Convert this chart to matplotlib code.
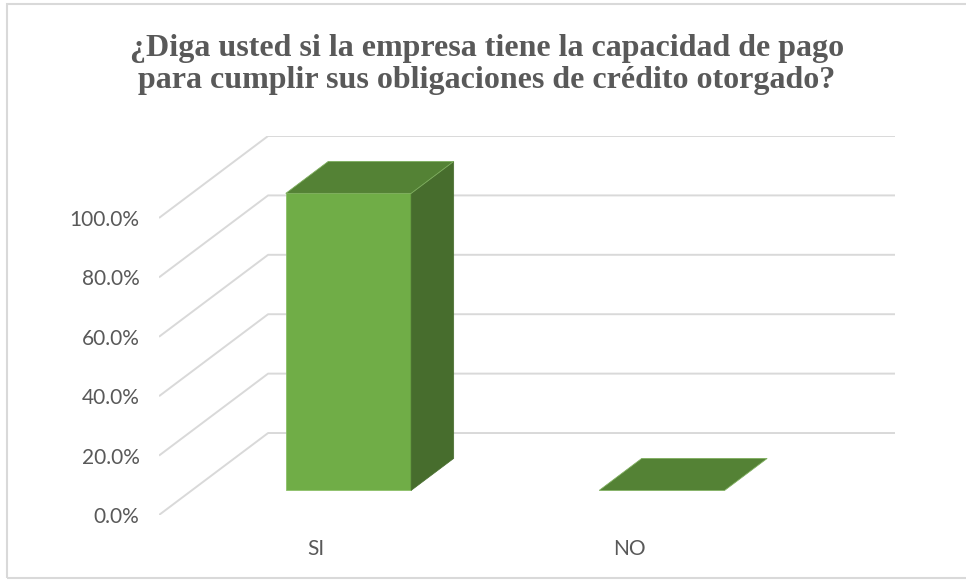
import matplotlib
matplotlib.use("Agg")
import matplotlib.pyplot as plt
from matplotlib.patches import Polygon, Rectangle

# ---- data ----
categories = ["SI", "NO"]
values = [100.0, 0.0]
yticks = [0, 20, 40, 60, 80, 100]
ytick_labels = ["0.0%", "20.0%", "40.0%", "60.0%", "80.0%", "100.0%"]
title = ("¿Diga usted si la empresa tiene la capacidad de pago\n"
         "para cumplir sus obligaciones de crédito otorgado?")

# ---- style ----
FRONT = "#70AD47"
TOP = "#548235"
SIDE = "#476D2D"
GRID = "#D9D9D9"
TXT = "#595959"

W, H = 966, 580
fig = plt.figure(figsize=(W / 100, H / 100), dpi=100)
fig.patch.set_facecolor("white")
ax = fig.add_axes([159 / W, 1 - 515 / H, (895 - 159) / W, (515 - 136) / H])

DX = 0.348   # depth offset (category units)
DY = 27.6    # depth offset (value units)
D0, D1 = 0.30, 0.69
BW = 0.40
n = len(categories)
ax.set_xlim(-0.5, n - 0.5 + DX)
ax.set_ylim(0, 100 + DY)

# walls / gridlines
for v in yticks:
    ax.plot([-0.5, -0.5 + DX, n - 0.5 + DX], [v, v + DY, v + DY],
            color=GRID, lw=1.4, zorder=1, solid_capstyle="butt")

# bars
ddx = (D1 - D0) * DX
ddy = (D1 - D0) * DY
for i, v in enumerate(values):
    xc = i + D0 * DX
    y0 = D0 * DY
    x0 = xc - BW / 2
    if v > 0:
        ax.bar(xc, v, BW, bottom=y0, color=FRONT, zorder=3,
               edgecolor="#8CC068", linewidth=0.6)
        side = Polygon([(x0 + BW, y0), (x0 + BW, y0 + v),
                        (x0 + BW + ddx, y0 + v + ddy), (x0 + BW + ddx, y0 + ddy)],
                       closed=True, facecolor=SIDE, edgecolor=SIDE, lw=0.5, zorder=3)
        ax.add_patch(side)
    top = Polygon([(x0, y0 + v), (x0 + BW, y0 + v),
                   (x0 + BW + ddx, y0 + v + ddy), (x0 + ddx, y0 + v + ddy)],
                  closed=True, facecolor=TOP, edgecolor="#7FAF5F", lw=0.6, zorder=4)
    ax.add_patch(top)

ax.set_yticks(yticks, ytick_labels)
ax.set_xticks(range(n), categories)
ax.tick_params(axis="y", length=0, pad=14, labelsize=15, labelcolor=TXT)
ax.tick_params(axis="x", length=0, pad=17, labelsize=15, labelcolor=TXT)
for lab in ax.get_xticklabels() + ax.get_yticklabels():
    lab.set_fontfamily("Lato")
for s in ax.spines.values():
    s.set_visible(False)
ax.set_facecolor("none")

fig.text(487 / W, 1 - 64.5 / H, title, ha="center", va="center",
         fontsize=23, fontweight="bold", family="Liberation Serif",
         color=TXT, linespacing=1.1)

fig.patches.append(Rectangle((7 / W, 2 / H), 1.2, 1 - 6 / H,
                             transform=fig.transFigure, fill=False,
                             edgecolor=GRID, lw=1.5, zorder=0))

fig.savefig("out.png", dpi=100)
